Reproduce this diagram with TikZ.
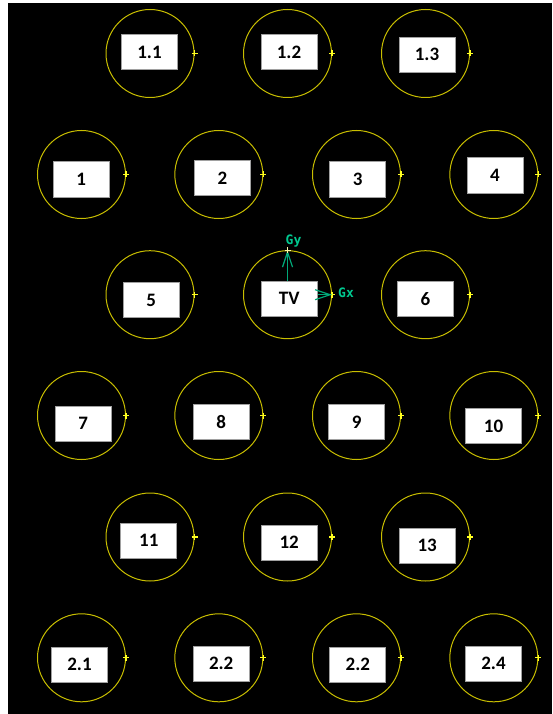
\documentclass[tikz,border=0pt]{standalone}
\usepackage{fontspec}
\setmainfont{Carlito}
\newfontfamily\axisfont{DejaVu Sans Mono}
\usepackage{tikz}
\usetikzlibrary{arrows.meta,positioning}
\definecolor{ScopeYellow}{HTML}{C8BE00}
\definecolor{ScopeMark}{HTML}{FFFF22}
\definecolor{ScopeGreen}{HTML}{00A878}
\definecolor{ScopeText}{HTML}{00C890}
\definecolor{ScopeFrame}{HTML}{A0A0A0}
\tikzset{
  ring/.style={circle,draw=ScopeYellow,line width=1pt,minimum size=88pt,inner sep=0pt},
  tag/.style={draw=ScopeFrame,line width=1pt,fill=white,minimum width=56pt,
    minimum height=35pt,inner sep=0pt,font=\bfseries\fontsize{19}{19}\selectfont},
  crosshair/.style={draw=ScopeMark,line width=1.2pt},
  gaxis/.style={-{Straight Barb[length=15pt,width=10pt]},draw=ScopeGreen,line width=1.2pt},
  axislabel/.style={text=ScopeText,inner sep=0pt,font=\axisfont\bfseries\fontsize{13}{13}\selectfont}
}
\begin{document}
\begin{tikzpicture}[x=1pt,y=-1pt]
  \useasboundingbox (0,0) rectangle (552,714);
  \fill[black] (8,3) rectangle (552,714);
  % rings, each with its zero mark on the right
  \foreach \id/\x/\y in {a1/150/53.5,a2/287.5/53.5,a3/425.5/53.5,
      n1/81.5/174.5,n2/218.8/174.5,n3/356.5/174.5,n4/493.8/174.5,
      n5/150/294.7,tv/287.5/294.7,n6/425.5/294.7,
      n7/81.5/415.5,n8/218.8/415.5,n9/356.5/415.5,n10/493.8/415.5,
      n11/150/537,n12/287.5/537,n13/425.5/537,
      b1/81.5/657.8,b2/218.8/657.8,b3/356.5/657.8,b4/493.8/657.8}{
    \node[ring] (ring-\id) at (\x,\y) {};
    \draw[crosshair] (ring-\id.east) +(-3,0) -- +(3,0) +(0,-3) -- +(0,3);
  }
  \node[tag] (tag-a1) at (149.5,52.5) {1.1};
  \node[tag] (tag-a2) at (289,52.5) {1.2};
  \node[tag] (tag-a3) at (427,54.7) {1.3};
  \node[tag] (tag-n1) at (81.3,179.5) {1};
  \node[tag] (tag-n2) at (222.5,178.3) {2};
  \node[tag] (tag-n3) at (357.8,179.5) {3};
  \node[tag] (tag-n4) at (495,175.5) {4};
  \node[tag] (tag-n5) at (151.2,300.3) {5};
  \node[tag] (tag-tv) at (289.2,298.8) {TV};
  \node[tag] (tag-n6) at (425.5,298.8) {6};
  \node[tag] (tag-n7) at (83.3,423.5) {7};
  \node[tag] (tag-n8) at (221.2,421.8) {8};
  \node[tag] (tag-n9) at (356.8,421.8) {9};
  \node[tag] (tag-n10) at (493.5,426) {10};
  \node[tag] (tag-n11) at (148.8,540.8) {11};
  \node[tag] (tag-n12) at (289.2,542.5) {12};
  \node[tag] (tag-n13) at (427.2,545.5) {13};
  \node[tag] (tag-b1) at (79.5,664.7) {2.1};
  \node[tag] (tag-b2) at (221.2,663.8) {2.2};
  \node[tag] (tag-b3) at (357.8,664.7) {2.2};
  \node[tag] (tag-b4) at (493.5,663.8) {2.4};
  % gradient axes of the TV ring
  \draw[gaxis] (ring-tv.north |- tag-tv.north) -- (ring-tv.north);
  \draw[gaxis] (tag-tv.east |- ring-tv.east) -- (ring-tv.east);
  \draw[crosshair,draw=yellow!35!white] (ring-tv.north) +(-3,0) -- +(3,0) +(0,-3) -- +(0,3);
  \node[axislabel,above=3pt of ring-tv.north,xshift=6pt] (gy) {Gy};
  \node[axislabel,right=6pt of ring-tv.east,yshift=2pt] (gx) {Gx};
\end{tikzpicture}
\end{document}
